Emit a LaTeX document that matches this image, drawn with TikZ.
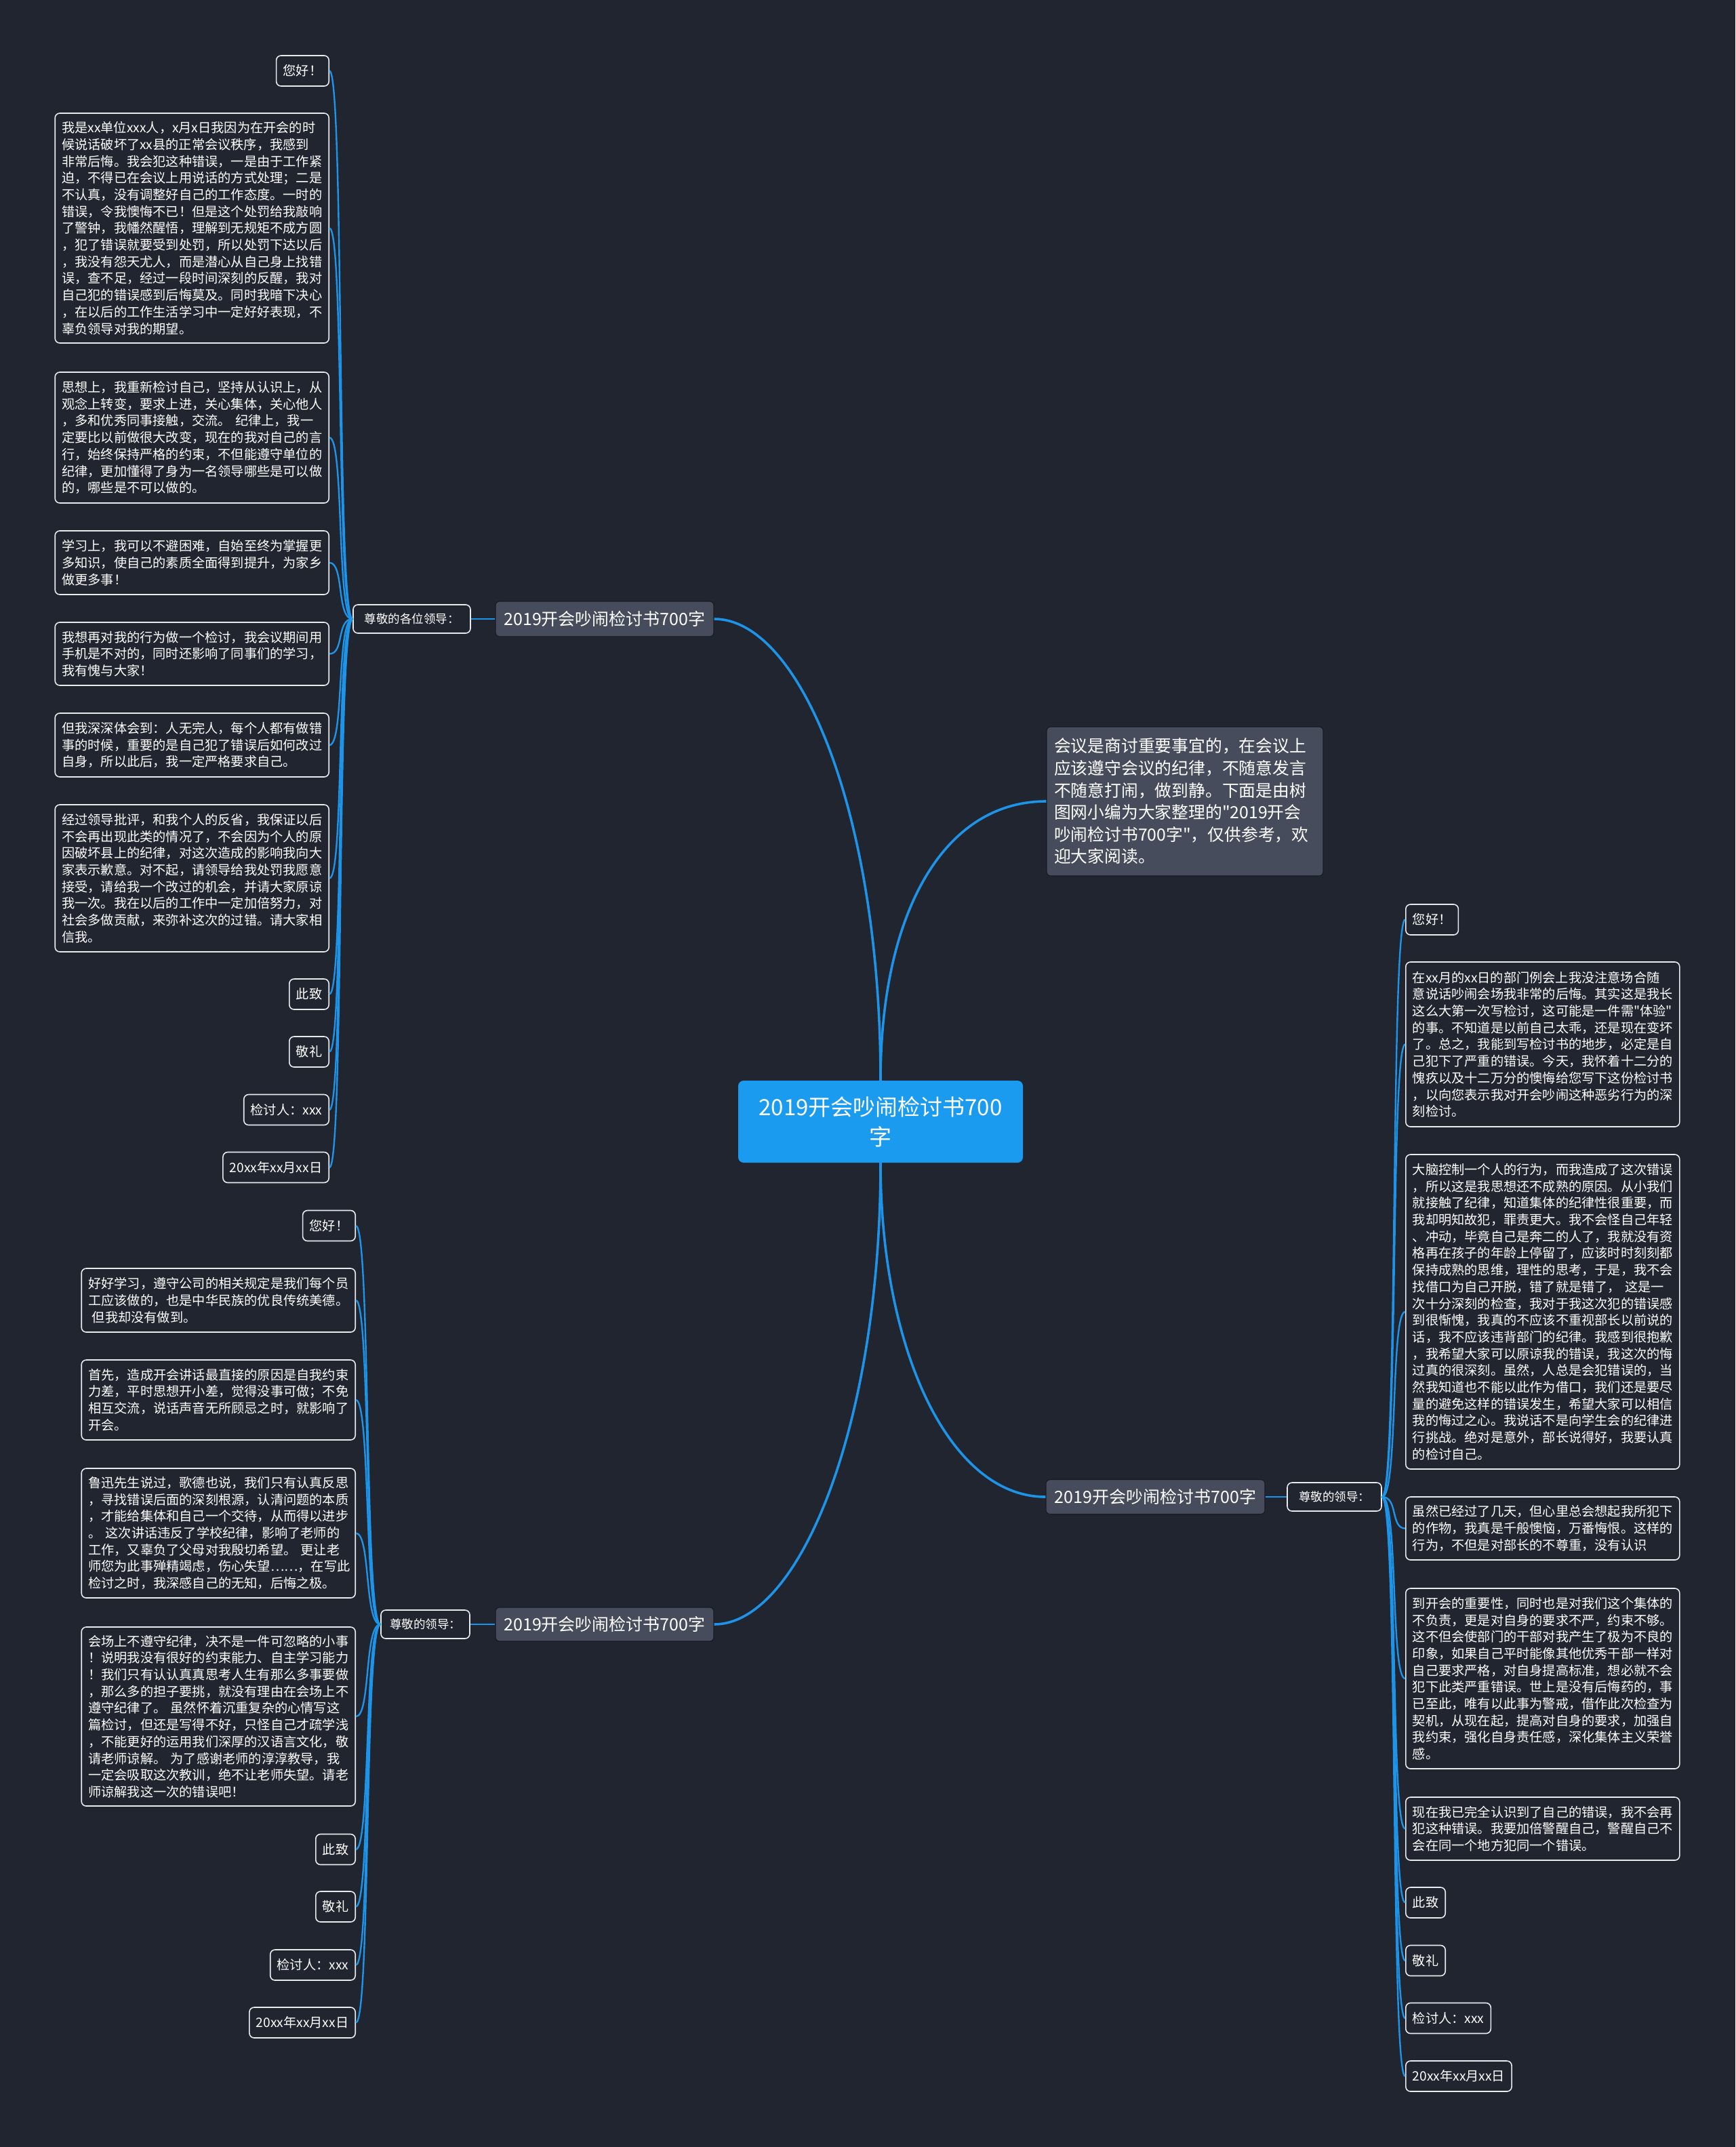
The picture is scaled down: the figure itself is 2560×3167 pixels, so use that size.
\documentclass[tikz,border=0pt]{standalone}
\usepackage{fontspec}
\setmainfont{Noto Sans CJK SC}[Ligatures=TeXOff]
\definecolor{bg}{RGB}{33,37,48}
\definecolor{link}{RGB}{30,148,232}
\definecolor{rootfill}{RGB}{27,155,240}
\definecolor{subfill}{RGB}{70,76,92}
\definecolor{subborder}{RGB}{24,27,34}
\definecolor{leafborder}{RGB}{232,234,238}
\begin{document}
\begin{tikzpicture}[x=1pt,y=-1pt,
  leaf/.style={draw=leafborder, line width=1.6pt, rounded corners=7pt, fill=bg, text=white,
    font=\fontsize{19.2}{24.7}\selectfont, inner xsep=10pt, inner ysep=0pt},
  para/.style={leaf, text width=384pt, inner xsep=10pt, align=left},
  tag/.style={leaf, minimum height=45pt},
  lab/.style={draw=leafborder, line width=1.6pt, rounded corners=7pt, fill=bg, text=white,
    font=\fontsize{17.5}{20}\selectfont, inner sep=0pt, minimum height=42pt},
  sub/.style={draw=subborder, line width=1.2pt, rounded corners=6pt, fill=subfill, text=white,
    font=\fontsize{25}{30}\selectfont, inner sep=0pt, minimum width=322pt, minimum height=52pt},
  mainlink/.style={draw=link, line width=3.6pt},
  leaflink/.style={draw=link, line width=2.4pt}]
\useasboundingbox[fill=bg] (0,0) rectangle (2560,3167);

% ---------- root and intro ----------
\node[fill=rootfill, rounded corners=8pt, text=white, minimum width=420pt, minimum height=121pt,
  inner sep=0pt, align=center, font=\fontsize{33}{44}\selectfont] (root) at (1299,1654.5)
  {2019开会吵闹检讨书700\\字};
\node[draw=subborder, line width=1.2pt, rounded corners=6pt, fill=subfill, text=white,
  text width=386pt, inner xsep=11pt, align=left, minimum height=220pt,
  font=\fontsize{24.8}{32.6}\selectfont] (intro) at (1748,1182)
  {会议是商讨重要事宜的，在会议上\\应该遵守会议的纪律，不随意发言\\不随意打闹，做到静。下面是由树\\图网小编为大家整理的"2019开会\\吵闹检讨书700字"，仅供参考，欢\\迎大家阅读。};

% ---------- branch nodes ----------
\node[sub] (b1) at (892,913) {2019开会吵闹检讨书700字};
\node[sub, minimum height=50pt] (b2) at (892,2396) {2019开会吵闹检讨书700字};
\node[sub, minimum height=51pt, minimum width=323pt] (b3) at (1704.5,2208) {2019开会吵闹检讨书700字};
\node[lab, minimum width=173pt] (l1) at (607.5,913) {尊敬的各位领导：};
\node[lab, minimum width=131pt] (l2) at (627.5,2396) {尊敬的领导：};
\node[lab, minimum width=139pt] (l3) at (1968.5,2208) {尊敬的领导：};

% ---------- branch 1 leaves ----------
\node[tag, anchor=east] (a1) at (486,104.5) {您好！};
\node[para, anchor=east, minimum height=339pt] (a2) at (486,336.5)
  {我是xx单位xxx人，x月x日我因为在开会的时\\候说话破坏了xx县的正常会议秩序，我感到\\非常后悔。我会犯这种错误，一是由于工作紧\\迫，不得已在会议上用说话的方式处理；二是\\不认真，没有调整好自己的工作态度。一时的\\错误，令我懊悔不已！但是这个处罚给我敲响\\了警钟，我幡然醒悟，理解到无规矩不成方圆\\，犯了错误就要受到处罚，所以处罚下达以后\\，我没有怨天尤人，而是潜心从自己身上找错\\误，查不足，经过一段时间深刻的反醒，我对\\自己犯的错误感到后悔莫及。同时我暗下决心\\，在以后的工作生活学习中一定好好表现，不\\辜负领导对我的期望。};
\node[para, anchor=east, minimum height=193pt] (a3) at (486,645.5)
  {思想上，我重新检讨自己，坚持从认识上，从\\观念上转变，要求上进，关心集体，关心他人\\，多和优秀同事接触，交流。\ 纪律上，我一\\定要比以前做很大改变，现在的我对自己的言\\行，始终保持严格的约束，不但能遵守单位的\\纪律，更加懂得了身为一名领导哪些是可以做\\的，哪些是不可以做的。};
\node[para, anchor=east, minimum height=94pt] (a4) at (486,830)
  {学习上，我可以不避困难，自始至终为掌握更\\多知识，使自己的素质全面得到提升，为家乡\\做更多事！};
\node[para, anchor=east, minimum height=93pt] (a5) at (486,964.5)
  {我想再对我的行为做一个检讨，我会议期间用\\手机是不对的，同时还影响了同事们的学习，\\我有愧与大家！};
\node[para, anchor=east, minimum height=94pt] (a6) at (486,1099)
  {但我深深体会到：人无完人，每个人都有做错\\事的时候，重要的是自己犯了错误后如何改过\\自身，所以此后，我一定严格要求自己。};
\node[para, anchor=east, minimum height=217pt] (a7) at (486,1295.5)
  {经过领导批评，和我个人的反省，我保证以后\\不会再出现此类的情况了，不会因为个人的原\\因破坏县上的纪律，对这次造成的影响我向大\\家表示歉意。对不起，请领导给我处罚我愿意\\接受，请给我一个改过的机会，并请大家原谅\\我一次。我在以后的工作中一定加倍努力，对\\社会多做贡献，来弥补这次的过错。请大家相\\信我。};
\node[tag, anchor=east] (a8) at (486,1466.5) {此致};
\node[tag, anchor=east] (a9) at (486,1551.5) {敬礼};
\node[tag, anchor=east] (a10) at (486,1637) {检讨人：xxx};
\node[tag, anchor=east] (a11) at (486,1722) {20xx年xx月xx日};

% ---------- branch 2 leaves ----------
\node[tag, anchor=east] (c1) at (525,1808) {您好！};
\node[para, anchor=east, minimum height=94pt] (c2) at (525,1918)
  {好好学习，遵守公司的相关规定是我们每个员\\工应该做的，也是中华民族的优良传统美德。\\\hspace*{0.3em}但我却没有做到。};
\node[para, anchor=east, minimum height=118pt] (c3) at (525,2065)
  {首先，造成开会讲话最直接的原因是自我约束\\力差，平时思想开小差，觉得没事可做；不免\\相互交流，说话声音无所顾忌之时，就影响了\\开会。};
\node[para, anchor=east, minimum height=191pt] (c4) at (525,2261.5)
  {鲁迅先生说过，歌德也说，我们只有认真反思\\，寻找错误后面的深刻根源，认清问题的本质\\，才能给集体和自己一个交待，从而得以进步\\。\ 这次讲话违反了学校纪律，影响了老师的\\工作，又辜负了父母对我殷切希望。\ 更让老\\师您为此事殚精竭虑，伤心失望……，在写此\\检讨之时，我深感自己的无知，后悔之极。};
\node[para, anchor=east, minimum height=264pt] (c5) at (525,2532)
  {会场上不遵守纪律，决不是一件可忽略的小事\\！说明我没有很好的约束能力、自主学习能力\\！我们只有认认真真思考人生有那么多事要做\\，那么多的担子要挑，就没有理由在会场上不\\遵守纪律了。\ 虽然怀着沉重复杂的心情写这\\篇检讨，但还是写得不好，只怪自己才疏学浅\\，不能更好的运用我们深厚的汉语言文化，敬\\请老师谅解。\ 为了感谢老师的淳淳教导，我\\一定会吸取这次教训，绝不让老师失望。请老\\师谅解我这一次的错误吧！};
\node[tag, anchor=east] (c6) at (525,2728) {此致};
\node[tag, anchor=east] (c7) at (525,2812.5) {敬礼};
\node[tag, anchor=east] (c8) at (525,2898.5) {检讨人：xxx};
\node[tag, anchor=east] (c9) at (525,2983.5) {20xx年xx月xx日};

% ---------- branch 3 leaves ----------
\node[tag, anchor=west] (r1) at (2073,1356.5) {您好！};
\node[para, anchor=west, minimum height=243pt] (r2) at (2073,1540.5)
  {在xx月的xx日的部门例会上我没注意场合随\\意说话吵闹会场我非常的后悔。其实这是我长\\这么大第一次写检讨，这可能是一件需"体验"\\的事。不知道是以前自己太乖，还是现在变坏\\了。总之，我能到写检讨书的地步，必定是自\\己犯下了严重的错误。今天，我怀着十二分的\\愧疚以及十二万分的懊悔给您写下这份检讨书\\，以向您表示我对开会吵闹这种恶劣行为的深\\刻检讨。};
\node[para, anchor=west, minimum height=464pt] (r3) at (2073,1935)
  {大脑控制一个人的行为，而我造成了这次错误\\，所以这是我思想还不成熟的原因。从小我们\\就接触了纪律，知道集体的纪律性很重要，而\\我却明知故犯，罪责更大。我不会怪自己年轻\\、冲动，毕竟自己是奔二的人了，我就没有资\\格再在孩子的年龄上停留了，应该时时刻刻都\\保持成熟的思维，理性的思考，于是，我不会\\找借口为自己开脱，错了就是错了，\ 这是一\\次十分深刻的检查，我对于我这次犯的错误感\\到很惭愧，我真的不应该不重视部长以前说的\\话，我不应该违背部门的纪律。我感到很抱歉\\，我希望大家可以原谅我的错误，我这次的悔\\过真的很深刻。虽然，人总是会犯错误的，当\\然我知道也不能以此作为借口，我们还是要尽\\量的避免这样的错误发生，希望大家可以相信\\我的悔过之心。我说话不是向学生会的纪律进\\行挑战。绝对是意外，部长说得好，我要认真\\的检讨自己。};
\node[para, anchor=west, minimum height=93pt] (r4) at (2073,2254.5)
  {虽然已经过了几天，但心里总会想起我所犯下\\的作物，我真是千般懊恼，万番悔恨。这样的\\行为，不但是对部长的不尊重，没有认识};
\node[para, anchor=west, minimum height=266pt] (r5) at (2073,2476)
  {到开会的重要性，同时也是对我们这个集体的\\不负责，更是对自身的要求不严，约束不够。\\这不但会使部门的干部对我产生了极为不良的\\印象，如果自己平时能像其他优秀干部一样对\\自己要求严格，对自身提高标准，想必就不会\\犯下此类严重错误。世上是没有后悔药的，事\\已至此，唯有以此事为警戒，借作此次检查为\\契机，从现在起，提高对自身的要求，加强自\\我约束，强化自身责任感，深化集体主义荣誉\\感。};
\node[para, anchor=west, minimum height=93pt] (r6) at (2073,2697.5)
  {现在我已完全认识到了自己的错误，我不会再\\犯这种错误。我要加倍警醒自己，警醒自己不\\会在同一个地方犯同一个错误。};
\node[tag, anchor=west] (r7) at (2073,2806.5) {此致};
\node[tag, anchor=west] (r8) at (2073,2892) {敬礼};
\node[tag, anchor=west] (r9) at (2073,2977) {检讨人：xxx};
\node[tag, anchor=west] (r10) at (2073,3062.5) {20xx年xx月xx日};

% ---------- connectors ----------
\draw[mainlink] (root.north) .. controls (1299,1200) and (1180,913) .. (b1.east);
\draw[mainlink] (root.north) .. controls (1299,1350) and (1390,1182) .. (intro.west);
\draw[mainlink] (root.south) .. controls (1299,2100) and (1180,2396) .. (b2.east);
\draw[mainlink] (root.south) .. controls (1299,1990) and (1400,2208) .. (b3.west);
\draw[leaflink] (b1.west) -- (l1.east);
\draw[leaflink] (b2.west) -- (l2.east);
\draw[leaflink] (b3.east) -- (l3.west);
\foreach \n in {a1,a2,a3,a4,a5,a6,a7,a8,a9,a10,a11}
  \draw[leaflink] (l1.west) .. controls +(-24,0) and +(22,0) .. (\n.east);
\foreach \n in {c1,c2,c3,c4,c5,c6,c7,c8,c9}
  \draw[leaflink] (l2.west) .. controls +(-24,0) and +(22,0) .. (\n.east);
\foreach \n in {r1,r2,r3,r4,r5,r6,r7,r8,r9,r10}
  \draw[leaflink] (l3.east) .. controls +(24,0) and +(-22,0) .. (\n.west);
\end{tikzpicture}
\end{document}
